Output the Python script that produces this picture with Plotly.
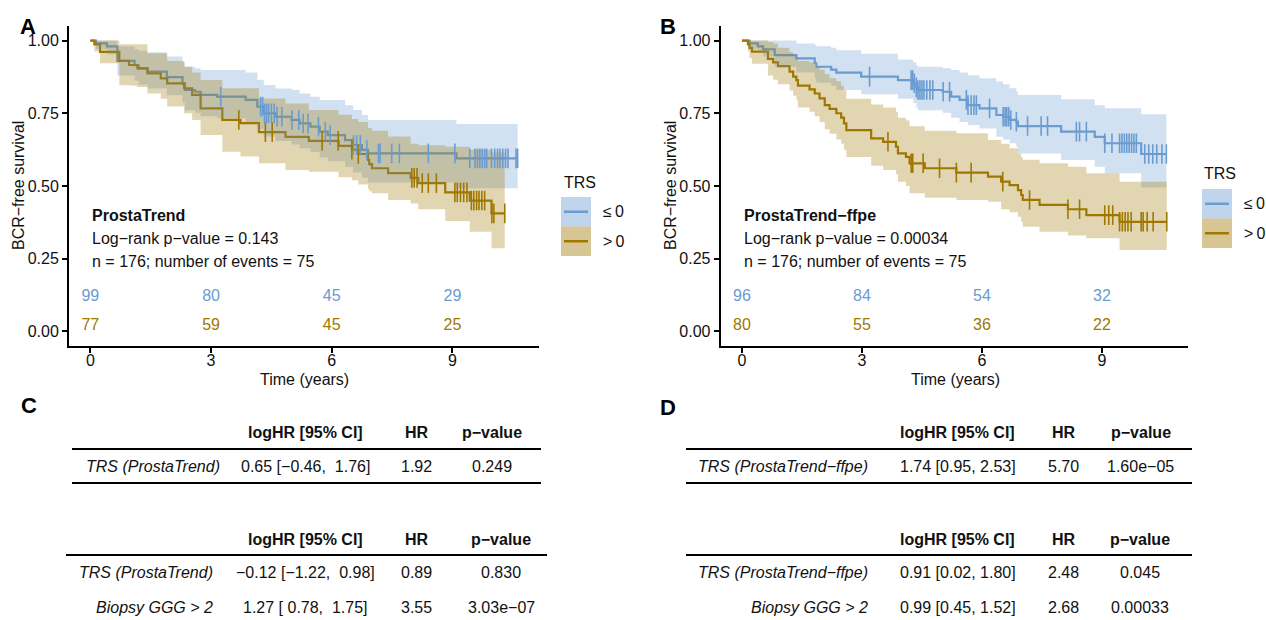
import numpy as np
import plotly.graph_objects as go

W, H = 1266, 620
FONT = "Liberation Sans, Arial, Helvetica, sans-serif"
BLUE = "#6A9BD1"
GOLD = "#A07800"
BLUE_RIB = "rgba(106,155,209,0.30)"
GOLD_RIB = "rgba(160,120,0,0.30)"
BLUE_KEY = "rgba(106,155,209,0.42)"
GOLD_KEY = "rgba(160,120,0,0.42)"

# ---------------- Panel A : ProstaTrend ----------------
A_LE_TIME = [0, 0.14, 0.41, 0.67, 1.10, 1.20, 1.42, 1.90, 2.29, 2.35, 2.60, 2.74, 3.15, 3.86,
             4.15, 4.31, 4.60, 5.00, 5.20, 5.47, 5.70, 5.90, 6.33, 6.53, 6.75, 6.90, 9.10]
A_LE_SURV = [1.000, 0.990, 0.980, 0.930, 0.915, 0.904, 0.893, 0.874, 0.853, 0.830, 0.824, 0.813,
             0.807, 0.796, 0.773, 0.750, 0.738, 0.727, 0.715, 0.704, 0.687, 0.675, 0.658, 0.641,
             0.624, 0.612, 0.595]
A_LE_LOWER = [1.000, 0.970, 0.952, 0.880, 0.862, 0.848, 0.835, 0.812, 0.787, 0.760, 0.752, 0.740,
              0.733, 0.720, 0.695, 0.670, 0.655, 0.643, 0.630, 0.617, 0.598, 0.585, 0.565, 0.546,
              0.528, 0.512, 0.492]
A_LE_UPPER = [1.000, 1.000, 1.000, 0.980, 0.970, 0.965, 0.960, 0.945, 0.925, 0.910, 0.905, 0.899,
              0.899, 0.890, 0.865, 0.847, 0.835, 0.830, 0.818, 0.807, 0.796, 0.796, 0.778, 0.761,
              0.744, 0.727, 0.713]
A_LE_END = 10.62
A_LE_CENSOR = [3.24, 4.23, 4.28, 4.33, 4.38, 4.43, 4.50, 4.57, 4.64, 4.76, 5.01, 5.18, 5.29, 5.41,
               5.67, 5.84, 5.96, 6.54, 6.62, 6.71, 6.87, 7.16, 7.20, 7.49, 7.68, 8.40, 9.06, 9.43,
               9.56, 9.62, 9.68, 9.74, 9.80, 9.85, 9.97, 10.05, 10.12, 10.18, 10.25, 10.32, 10.38,
               10.58, 10.62]

A_GT_TIME = [0, 0.10, 0.24, 0.72, 0.96, 1.17, 1.42, 1.75, 1.91, 2.33, 2.53, 2.74, 3.28, 3.73,
             4.19, 4.85, 5.43, 6.17, 6.50, 6.66, 6.90, 6.93, 7.00, 7.40, 7.96, 8.15, 8.82, 9.43, 9.97]
A_GT_SURV = [1.000, 0.987, 0.961, 0.930, 0.916, 0.904, 0.887, 0.870, 0.853, 0.836, 0.813, 0.767,
             0.727, 0.716, 0.685, 0.669, 0.655, 0.638, 0.625, 0.610, 0.590, 0.575, 0.561, 0.544,
             0.528, 0.510, 0.478, 0.450, 0.406]
A_GT_LOWER = [1.000, 0.962, 0.922, 0.847, 0.845, 0.840, 0.818, 0.800, 0.773, 0.750, 0.727, 0.675,
              0.618, 0.601, 0.578, 0.555, 0.549, 0.530, 0.520, 0.505, 0.490, 0.482, 0.475, 0.452,
              0.440, 0.420, 0.380, 0.343, 0.286]
A_GT_UPPER = [1.000, 1.000, 1.000, 0.987, 0.987, 0.987, 0.956, 0.956, 0.930, 0.910, 0.890, 0.864,
              0.836, 0.836, 0.801, 0.784, 0.761, 0.745, 0.730, 0.720, 0.700, 0.698, 0.690, 0.670,
              0.645, 0.640, 0.635, 0.625, 0.615]
A_GT_END = 10.30
A_GT_CENSOR = [3.69, 4.35, 4.52, 5.76, 6.16, 6.50, 6.66, 7.99, 8.05, 8.12, 8.25, 8.40, 8.60, 9.06,
               9.12, 9.20, 9.28, 9.36, 9.47, 9.53, 9.60, 9.66, 9.73, 9.80, 9.98, 10.03, 10.30]

# ---------------- Panel B : ProstaTrend-ffpe ----------------
B_LE_TIME = [0, 0.19, 0.40, 0.53, 0.82, 1.36, 1.82, 1.86, 2.23, 2.36, 2.98, 3.90, 4.28, 4.36,
             4.40, 5.02, 5.23, 5.44, 5.65, 5.94, 6.36, 6.53, 6.69, 6.86, 6.90, 7.98, 8.82, 9.07, 9.98]
B_LE_SURV = [1.000, 0.990, 0.980, 0.970, 0.950, 0.939, 0.922, 0.910, 0.900, 0.890, 0.876, 0.864,
             0.853, 0.839, 0.830, 0.824, 0.807, 0.796, 0.778, 0.767, 0.744, 0.738, 0.727, 0.721,
             0.706, 0.687, 0.669, 0.647, 0.610]
B_LE_LOWER = [1.000, 0.970, 0.960, 0.945, 0.910, 0.890, 0.870, 0.855, 0.845, 0.830, 0.815, 0.800,
              0.785, 0.770, 0.760, 0.752, 0.735, 0.720, 0.710, 0.698, 0.669, 0.660, 0.647, 0.635,
              0.612, 0.589, 0.566, 0.544, 0.495]
B_LE_UPPER = [1.000, 1.000, 1.000, 1.000, 1.000, 0.990, 0.985, 0.980, 0.975, 0.967, 0.955, 0.935,
              0.925, 0.915, 0.910, 0.905, 0.899, 0.890, 0.881, 0.870, 0.859, 0.850, 0.836, 0.825,
              0.813, 0.798, 0.778, 0.767, 0.747]
B_LE_END = 10.61
B_LE_CENSOR = [3.19, 4.23, 4.27, 4.31, 4.36, 4.40, 4.45, 4.50, 4.55, 4.62, 4.70, 4.77, 5.03, 5.19,
               5.61, 5.65, 5.73, 5.80, 5.86, 6.19, 6.53, 6.58, 6.62, 6.67, 6.72, 6.86, 7.14, 7.48,
               7.64, 8.36, 8.44, 8.61, 9.07, 9.25, 9.44, 9.50, 9.56, 9.62, 9.68, 9.74, 9.80, 9.86,
               10.07, 10.17, 10.27, 10.37, 10.50, 10.61]

B_GT_TIME = [0, 0.15, 0.19, 0.25, 0.65, 0.78, 0.90, 1.19, 1.28, 1.36, 1.40, 1.69, 1.82, 1.94,
             2.07, 2.19, 2.36, 2.48, 2.55, 2.61, 3.23, 3.53, 3.85, 3.90, 4.10, 4.19, 4.57, 5.36,
             6.15, 6.48, 6.69, 6.90, 6.98, 7.02, 7.44, 8.15, 8.61, 9.44]
B_GT_SURV = [1.000, 0.987, 0.975, 0.962, 0.937, 0.925, 0.912, 0.893, 0.876, 0.864, 0.845, 0.832,
             0.818, 0.801, 0.778, 0.765, 0.750, 0.735, 0.715, 0.692, 0.664, 0.652, 0.635, 0.612,
             0.600, 0.578, 0.561, 0.546, 0.532, 0.515, 0.503, 0.486, 0.469, 0.452, 0.435, 0.420,
             0.400, 0.377]
B_GT_LOWER = [1.000, 0.963, 0.940, 0.920, 0.880, 0.865, 0.850, 0.828, 0.810, 0.795, 0.770, 0.755,
              0.740, 0.720, 0.695, 0.680, 0.660, 0.645, 0.625, 0.600, 0.570, 0.555, 0.540, 0.515,
              0.500, 0.475, 0.460, 0.452, 0.446, 0.420, 0.410, 0.394, 0.377, 0.360, 0.343, 0.330,
              0.320, 0.280]
B_GT_UPPER = [1.000, 1.000, 1.000, 1.000, 0.995, 0.990, 0.975, 0.960, 0.950, 0.939, 0.930, 0.925,
              0.910, 0.900, 0.885, 0.870, 0.860, 0.845, 0.830, 0.800, 0.780, 0.770, 0.755, 0.735,
              0.725, 0.705, 0.690, 0.681, 0.658, 0.645, 0.630, 0.612, 0.600, 0.590, 0.578, 0.566,
              0.544, 0.515]
B_GT_END = 10.62
B_GT_CENSOR = [3.65, 4.23, 4.27, 4.53, 4.94, 5.36, 5.73, 6.52, 7.19, 8.15, 8.44, 9.07, 9.17, 9.27,
               9.44, 9.51, 9.58, 9.65, 9.73, 9.98, 10.03, 10.13, 10.28, 10.62]

# numbers at risk
RISK_TIMES = [0, 3, 6, 9]
A_RISK_LE = [99, 80, 45, 29]
A_RISK_GT = [77, 59, 45, 25]
B_RISK_LE = [96, 84, 54, 32]
B_RISK_GT = [80, 55, 36, 22]

A_TITLE = "ProstaTrend"
B_TITLE = "ProstaTrend\u2212ffpe"
A_PVAL = "Log\u2212rank p\u2212value = 0.143"
B_PVAL = "Log\u2212rank p\u2212value = 0.00034"
N_TEXT = "n = 176; number of events = 75"
LEGEND_TITLE = "TRS"
LEGEND_LABELS = ["\u2264\u20090", ">\u20090"]

# tables
TAB_HEAD = ["logHR [95% CI]", "HR", "p\u2212value"]
C1_ROWS = [["TRS (ProstaTrend)", "0.65 [\u22120.46,\u00a0 1.76]", "1.92", "0.249"]]
C2_ROWS = [["TRS (ProstaTrend)", "\u22120.12 [\u22121.22,\u00a0 0.98]", "0.89", "0.830"],
           ["Biopsy GGG > 2", "1.27 [\u00a00.78,\u00a0 1.75]", "3.55", "3.03e\u221207"]]
D1_ROWS = [["TRS (ProstaTrend\u2212ffpe)", "1.74 [0.95, 2.53]", "5.70", "1.60e\u221205"]]
D2_ROWS = [["TRS (ProstaTrend\u2212ffpe)", "0.91 [0.02, 1.80]", "2.48", "0.045"],
           ["Biopsy GGG > 2", "0.99 [0.45, 1.52]", "2.68", "0.00033"]]


def px(x):
    return x / W


def py(y):
    return 1 - y / H


def step_path(t, v, end):
    xs, ys = [], []
    for i in range(len(t)):
        x1 = t[i + 1] if i + 1 < len(t) else end
        xs += [t[i], x1]
        ys += [v[i], v[i]]
    return xs, ys


def surv_at(t, s, c):
    idx = np.searchsorted(np.array(t), np.array(c), side="right") - 1
    return [s[i] for i in idx]


fig = go.Figure()

panels = [
    ("x", "y", [(A_LE_TIME, A_LE_SURV, A_LE_LOWER, A_LE_UPPER, A_LE_END, A_LE_CENSOR, BLUE, BLUE_RIB),
                (A_GT_TIME, A_GT_SURV, A_GT_LOWER, A_GT_UPPER, A_GT_END, A_GT_CENSOR, GOLD, GOLD_RIB)]),
    ("x2", "y2", [(B_LE_TIME, B_LE_SURV, B_LE_LOWER, B_LE_UPPER, B_LE_END, B_LE_CENSOR, BLUE, BLUE_RIB),
                  (B_GT_TIME, B_GT_SURV, B_GT_LOWER, B_GT_UPPER, B_GT_END, B_GT_CENSOR, GOLD, GOLD_RIB)]),
]

for xa, ya, curves in panels:
    for t, s, lo, hi, end, cens, col, rib in curves:
        xs, ys = step_path(t, s, end)
        fig.add_trace(go.Scatter(x=xs, y=ys, mode="lines", line=dict(color=col, width=2.2),
                                 xaxis=xa, yaxis=ya, hoverinfo="skip"))
    for t, s, lo, hi, end, cens, col, rib in curves:
        xu, yu = step_path(t, hi, end)
        xl, yl = step_path(t, lo, end)
        fig.add_trace(go.Scatter(x=xu + xl[::-1], y=yu + yl[::-1], mode="lines", fill="toself",
                                 fillcolor=rib, line=dict(width=0), xaxis=xa, yaxis=ya,
                                 hoverinfo="skip"))
    for t, s, lo, hi, end, cens, col, rib in curves:
        fig.add_trace(go.Scatter(x=cens, y=surv_at(t, s, cens), mode="markers",
                                 marker=dict(symbol="line-ns", size=14,
                                             line=dict(color=col, width=1.6)),
                                 xaxis=xa, yaxis=ya, hoverinfo="skip"))

for xa, ya, le, gt in [("x", "y", A_RISK_LE, A_RISK_GT), ("x2", "y2", B_RISK_LE, B_RISK_GT)]:
    fig.add_trace(go.Scatter(x=RISK_TIMES, y=[0.12] * 4, mode="text", text=[str(v) for v in le],
                             textfont=dict(color=BLUE, size=16, family=FONT), xaxis=xa, yaxis=ya,
                             hoverinfo="skip"))
    fig.add_trace(go.Scatter(x=RISK_TIMES, y=[0.02] * 4, mode="text", text=[str(v) for v in gt],
                             textfont=dict(color=GOLD, size=16, family=FONT), xaxis=xa, yaxis=ya,
                             hoverinfo="skip"))

axis_common = dict(showline=True, linecolor="black", linewidth=2, ticks="outside", ticklen=5,
                   tickwidth=1.6, tickcolor="black", showgrid=False, zeroline=False,
                   tickfont=dict(size=16, color="#111", family=FONT))
XR = [-0.531, 11.151]
YR = [-0.05, 1.05]
ydom = [py(346), py(26)]
fig.update_layout(
    width=W, height=H, margin=dict(l=0, r=0, t=0, b=0),
    paper_bgcolor="white", plot_bgcolor="white", showlegend=False,
    font=dict(family=FONT, size=16, color="#111"),
    xaxis=dict(domain=[px(69), px(539)], range=XR, tickvals=[0, 3, 6, 9], anchor="y",
               ticklabelstandoff=-6, **axis_common),
    yaxis=dict(domain=ydom, range=YR, tickvals=[0, 0.25, 0.5, 0.75, 1.0], tickformat=".2f",
               anchor="x", **axis_common),
    xaxis2=dict(domain=[px(720.7), px(1188)], range=XR, tickvals=[0, 3, 6, 9], anchor="y2",
                ticklabelstandoff=-6, **axis_common),
    yaxis2=dict(domain=ydom, range=YR, tickvals=[0, 0.25, 0.5, 0.75, 1.0], tickformat=".2f",
                anchor="x2", **axis_common),
)

ann = []
shapes = []


def text(x, y, s, size=16, anchor="center", bold=False, italic=False, color="#111", angle=0,
         xref="paper", yref="paper"):
    if bold:
        s = "<b>" + s + "</b>"
    if italic:
        s = "<i>" + s + "</i>"
    ann.append(dict(x=x, y=y, xref=xref, yref=yref, text=s, showarrow=False, xanchor=anchor,
                    yanchor="middle", textangle=angle,
                    font=dict(size=size, color=color, family=FONT)))


for xr, yr, title, pval in [("x", "y", A_TITLE, A_PVAL), ("x2", "y2", B_TITLE, B_PVAL)]:
    text(0, 0.40, title, anchor="left", bold=True, xref=xr, yref=yr)
    text(0, 0.32, pval, anchor="left", xref=xr, yref=yr)
    text(0, 0.24, N_TEXT, anchor="left", xref=xr, yref=yr)

for ytx in (18, 670):
    text(px(ytx), py(186), "BCR\u2212free survival", angle=-90)
text(px(304.5), py(379), "Time (years)")
text(px(955), py(379), "Time (years)")

for lx, ly, l in [(27.5, 26, "A"), (668, 26, "B"), (28.5, 406, "C"), (668, 407, "D")]:
    text(px(lx), py(ly), l, size=22, bold=True, color="black")

for (tx, ty, kx, ky) in [(562, 182.5, 561, 197), (1202, 173, 1202, 189)]:
    text(px(tx), py(ty), LEGEND_TITLE, anchor="left")
    for k, (lab, col, fillc) in enumerate([(LEGEND_LABELS[0], BLUE, BLUE_KEY),
                                           (LEGEND_LABELS[1], GOLD, GOLD_KEY)]):
        y0 = ky + k * 29.5
        y1 = y0 + 29.5
        shapes.append(dict(type="rect", xref="paper", yref="paper", x0=px(kx), x1=px(kx + 30),
                           y0=py(y1), y1=py(y0), fillcolor=fillc, line=dict(width=0),
                           layer="above"))
        shapes.append(dict(type="line", xref="paper", yref="paper", x0=px(kx + 3), x1=px(kx + 27),
                           y0=py((y0 + y1) / 2), y1=py((y0 + y1) / 2),
                           line=dict(color=col, width=2.5), layer="above"))
        text(px(kx + 40), py((y0 + y1) / 2), lab, anchor="left")


def hline(x0, x1, y):
    shapes.append(dict(type="line", xref="paper", yref="paper", x0=px(x0), x1=px(x1),
                       y0=py(y), y1=py(y), line=dict(color="black", width=2)))


def table(rows, head_y, top_line, row_ys, bottom_line, xl, xr, label_right, cols):
    for j, h in enumerate(TAB_HEAD):
        text(px(cols[j]), py(head_y), h, bold=True)
    hline(xl, xr, top_line)
    for r, yy in zip(rows, row_ys):
        text(px(label_right), py(yy), r[0], anchor="right", italic=True)
        for j in range(3):
            text(px(cols[j]), py(yy), r[j + 1])
    if bottom_line is not None:
        hline(xl, xr, bottom_line)


table(C1_ROWS, 432, 449, [466], 483, 72, 541, 222, [305, 416.5, 492])
table(C2_ROWS, 539, 555, [572, 607], None, 66, 547, 215, [305, 416.5, 501])
table(D1_ROWS, 432, 449, [466], 483, 686, 1192, 870, [957.5, 1063.5, 1140.5])
table(D2_ROWS, 539, 555, [572, 607], None, 686, 1192, 870, [957.5, 1063.5, 1140])

fig.update_layout(annotations=ann, shapes=shapes)
fig.write_html("out.html", config={"displayModeBar": False},
               post_script="document.body.style.margin='0px';document.body.style.overflow='hidden';")
